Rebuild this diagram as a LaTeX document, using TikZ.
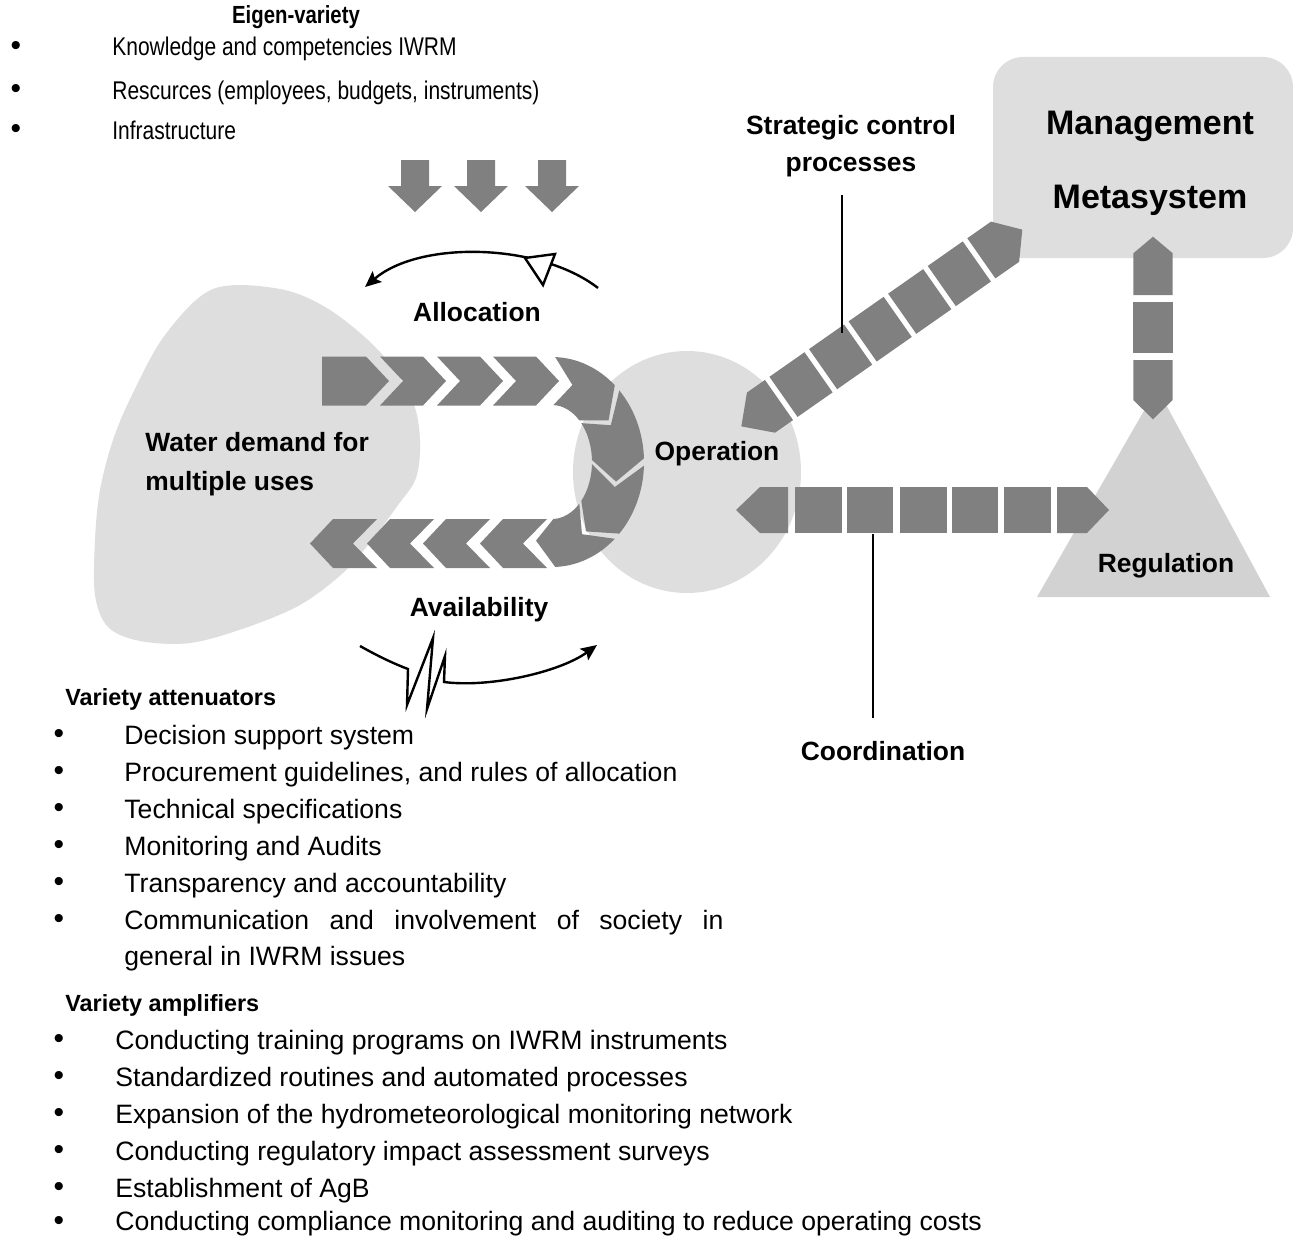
\documentclass[tikz,border=0pt]{standalone}
\usepackage{fontspec}
\setmainfont{Liberation Sans}
\newfontfamily\narrowsans[FakeStretch=0.82]{Liberation Sans}
\usetikzlibrary{arrows.meta}
\definecolor{bandgray}{HTML}{808080}
\definecolor{palegray}{HTML}{DEDEDE}
\definecolor{trigray}{HTML}{D2D2D2}
% right-pointing chevron: left x, centre y
\newcommand\chevright[2]{%
  \fill[bandgray] (#1,#2-24.5) -- ++(43,0) -- ++(23,24.5) -- ++(-23,24.5) -- ++(-43,0) -- ++(23,-24.5) -- cycle;}
% left-pointing chevron: tip x, centre y
\newcommand\chevleft[2]{%
  \fill[bandgray] (#1,#2) -- ++(23,-24.5) -- ++(44,0) -- ++(-24,24.5) -- ++(24,24.5) -- ++(-44,0) -- cycle;}
\begin{document}
\begin{tikzpicture}[x=0.5pt,y=-0.5pt,
  lbl/.style={inner sep=0pt, font=\fontsize{13.2}{16}\selectfont\bfseries},
  biglbl/.style={inner sep=0pt, font=\fontsize{17}{20}\selectfont\bfseries},
  headlbl/.style={inner sep=0pt, font=\fontsize{11.7}{14}\selectfont\bfseries},
  toplbl/.style={inner sep=0pt, font=\narrowsans\fontsize{12.4}{14}\selectfont\bfseries},
  toptxt/.style={inner sep=0pt, font=\narrowsans\fontsize{12.8}{14}\selectfont},
  listtxt/.style={inner sep=0pt, font=\fontsize{13.3}{16}\selectfont},
  topdot/.style={inner sep=0pt, font=\fontsize{15}{16}\selectfont},
  listdot/.style={inner sep=0pt, font=\fontsize{15}{16}\selectfont},
  leader/.style={line width=0.9pt},
  curvearrow/.style={line width=1.2pt, -{Stealth[length=8pt,width=7pt,inset=1.5pt]}}]

\fill[white] (0,0) rectangle (1293,1236);
\useasboundingbox (0,0) rectangle (1293,1236);

% ---- background shapes ----
\fill[palegray] plot[smooth cycle, tension=0.55] coordinates {(213,289) (280,289) (330,310) (380,352) (412,400) (420,440) (416,478) (398,505) (372,540) (343,573) (300,605) (245,628) (190,643) (140,641) (108,627) (95,595) (95,540) (100,490) (113,440) (132,395) (165,335)};
\fill[palegray] (687,472) ellipse [x radius=114, y radius=121];
\fill[palegray, rounded corners=15pt] (993,57) rectangle (1293,258);
\fill[trigray] (1157,388) -- (1270,597) -- (1037,597) -- cycle;

% ---- three input arrows ----
\foreach \cx in {415,481,552}
  \fill[bandgray] (\cx-14,160) -- (\cx+14,160) -- (\cx+14,186) -- (\cx+27,186) -- (\cx,212) -- (\cx-27,186) -- (\cx-14,186) -- cycle;

% ---- chevron loop ----
\fill[bandgray] (322,356.5) -- (366,356.5) -- (389,381) -- (366,405.5) -- (322,405.5) -- cycle;
\chevright{380}{381}
\chevright{437}{381}
\chevright{493}{381}
\foreach \a in {-88,-43,2,47}{
  \pgfmathsetmacro\b{\a+41}
  \fill[bandgray] ({552+92*cos(\a)},{462+105*sin(\a)})
    arc[start angle=\a, end angle=\b, x radius=92, y radius=105]
    -- ({552+66*cos(\b+16)},{462+81*sin(\b+16)})
    -- ({552+40*cos(\b)},{462+57*sin(\b)})
    arc[start angle=\b, end angle=\a, x radius=40, y radius=57]
    -- ({552+66*cos(\a+16)},{462+81*sin(\a+16)}) -- cycle;
}
\chevleft{310}{543.5}
\chevleft{367}{543.5}
\chevleft{423}{543.5}
\chevleft{480}{543.5}

% ---- strategic control band ----
\begin{scope}[shift={(779,400)}, rotate=35]
  \fill[bandgray] (0,-24.5) -- (-22,-24.5) -- (-46,0) -- (-22,24.5) -- (0,24.5) -- cycle;
  \foreach \t in {5.5,53.8,102.1,150.4,198.7}
    \fill[bandgray] (\t,-24.5) rectangle ++(42.8,49);
  \fill[bandgray] (247,-24.5) -- (276,-24.5) -- (297,0) -- (276,24.5) -- (247,24.5) -- cycle;
\end{scope}

% ---- coordination band ----
\fill[bandgray] (788,487) -- (760,487) -- (736,510) -- (760,533) -- (788,533) -- cycle;
\foreach \l/\r in {795/842,847/893,900/947,952/998,1004/1051}
  \fill[bandgray] (\l,487) rectangle (\r,533);
\fill[bandgray] (1057,487) -- (1087,487) -- (1109,510) -- (1087,533) -- (1057,533) -- cycle;

% ---- regulation band ----
\fill[bandgray] (1133.3,295) -- (1133.3,253.3) -- (1153,236.7) -- (1172.7,253.3) -- (1172.7,295) -- cycle;
\fill[bandgray] (1133.3,301.7) rectangle (1172.7,353.3);
\fill[bandgray] (1133.3,360) -- (1172.7,360) -- (1172.7,400) -- (1153,419.3) -- (1133.3,400) -- cycle;

% ---- allocation and availability loops ----
\coordinate (alstart) at (598,288);
\coordinate (alend) at (365,287);
\draw[curvearrow] (alstart) .. controls (540,243) and (420,240) .. (alend);
\filldraw[fill=white, line width=1.2pt] (525,258) -- (555,254) -- (543,285) -- cycle;

\coordinate (avstart) at (360,646);
\coordinate (avend) at (597,645);
\draw[curvearrow] (avstart) .. controls (376,655) and (392,663) .. (408,669)
  -- (407,705) -- (433,638) -- (427,709) -- (445,656) -- (444,682)
  .. controls (490,688) and (560,672) .. (avend);

% ---- leader lines ----
\coordinate (sctop) at (842,195);
\coordinate (scfoot) at (842,333);
\draw[leader] (sctop) -- (scfoot);
\coordinate (cotop) at (873,534);
\coordinate (cofoot) at (873,718);
\draw[leader] (cotop) -- (cofoot);

% ---- labels ----
\node[toplbl, anchor=base] (eigen) at (296,24) {Eigen-variety};
\node[topdot] (eb1) at (16,48) {\textbullet};
\node[topdot] (eb2) at (16,91) {\textbullet};
\node[topdot] (eb3) at (16,131) {\textbullet};
\node[toptxt, anchor=base west] (et1) at (112,56) {Knowledge and competencies IWRM};
\node[toptxt, anchor=base west] (et2) at (112,99) {Rescurces (employees, budgets, instruments)};
\node[toptxt, anchor=base west] (et3) at (112,139) {Infrastructure};

\node[lbl, anchor=base] (strat1) at (851,134) {Strategic control};
\node[lbl, anchor=base] (strat2) at (851,171) {processes};
\node[biglbl, anchor=base] (mgmt1) at (1150,134) {Management};
\node[biglbl, anchor=base] (mgmt2) at (1150,208) {Metasystem};
\node[lbl, anchor=base] (alloc) at (477,321) {Allocation};
\node[lbl, anchor=base west] (wd1) at (145,451) {Water demand for};
\node[lbl, anchor=base west] (wd2) at (145,490) {multiple uses};
\node[lbl, anchor=base] (oper) at (717,460) {Operation};
\node[lbl, anchor=base] (avail) at (479,616) {Availability};
\node[lbl, anchor=base] (regul) at (1166,572) {Regulation};
\node[lbl, anchor=base] (coord) at (883,760) {Coordination};

\node[headlbl, anchor=base west] (atthead) at (65,705) {Variety attenuators};
\node[listdot] (ab1) at (59,736) {\textbullet};
\node[listdot] (ab2) at (59,773) {\textbullet};
\node[listdot] (ab3) at (59,810) {\textbullet};
\node[listdot] (ab4) at (59,847) {\textbullet};
\node[listdot] (ab5) at (59,884) {\textbullet};
\node[listdot] (ab6) at (59,921) {\textbullet};
\node[listtxt, anchor=base west] (at1) at (124,744) {Decision support system};
\node[listtxt, anchor=base west] (at2) at (124,781) {Procurement guidelines, and rules of allocation};
\node[listtxt, anchor=base west] (at3) at (124,818) {Technical specifications};
\node[listtxt, anchor=base west] (at4) at (124,855) {Monitoring and Audits};
\node[listtxt, anchor=base west] (at5) at (124,892) {Transparency and accountability};
\node[listtxt, anchor=base west] (at6) at (124,929) {\makebox[299.5pt][s]{Communication and involvement of society in}};
\node[listtxt, anchor=base west] (at7) at (124,965) {general in IWRM issues};

\node[headlbl, anchor=base west] (amphead) at (65,1011) {Variety amplifiers};
\node[listdot] (mb1) at (59,1041) {\textbullet};
\node[listdot] (mb2) at (59,1078) {\textbullet};
\node[listdot] (mb3) at (59,1115) {\textbullet};
\node[listdot] (mb4) at (59,1152) {\textbullet};
\node[listdot] (mb5) at (59,1189) {\textbullet};
\node[listdot] (mb6) at (59,1223) {\textbullet};
\node[listtxt, anchor=base west] (mt1) at (115,1049) {Conducting training programs on IWRM instruments};
\node[listtxt, anchor=base west] (mt2) at (115,1086) {Standardized routines and automated processes};
\node[listtxt, anchor=base west] (mt3) at (115,1123) {Expansion of the hydrometeorological monitoring network};
\node[listtxt, anchor=base west] (mt4) at (115,1160) {Conducting regulatory impact assessment surveys};
\node[listtxt, anchor=base west] (mt5) at (115,1197) {Establishment of AgB};
\node[listtxt, anchor=base west] (mt6) at (115,1230) {Conducting compliance monitoring and auditing to reduce operating costs};
\end{tikzpicture}
\end{document}
